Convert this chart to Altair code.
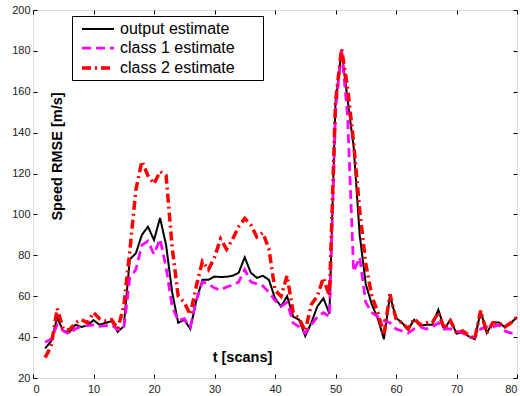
import altair as alt
import pandas as pd

# ---- data ----
t = list(range(2, 81))
output_est = [34.5, 38, 49.4, 43, 42.3, 46, 45, 45.6, 48.3, 46, 47, 47.8, 42.6, 45.3,
              78, 81, 90, 94, 87.5, 98.3, 85, 62, 47, 48.5, 44, 58, 68, 68, 69.6, 69.4,
              69.5, 70, 71.5, 79, 71.5, 69, 70, 68, 59, 55, 60, 50, 48.5, 40.5, 47, 55,
              59, 51.5, 155, 180, 156, 133, 90, 66, 56, 49, 39, 60.3, 49.4, 47, 43.7,
              48.5, 45.6, 46, 46, 53.4, 44, 48.5, 41.7, 42.4, 40.4, 39, 52.6, 42, 47.2,
              47.2, 44.8, 47, 49.7]
class1_est = [37.5, 39, 46, 43, 41.5, 44, 45.3, 45.6, 46, 45.3, 45.6, 46, 43.7, 44,
              69, 73, 85, 87, 80.5, 88, 74, 55, 48, 49, 45, 58, 67, 66, 64, 63, 64.5,
              65.5, 67, 73, 67, 66, 65, 62, 58, 55, 57, 47, 45, 42, 46, 50, 52, 50,
              150, 181, 148, 72, 79, 57, 52, 50, 48, 47, 44, 43, 42, 44, 45, 44, 45,
              47, 44, 44, 43, 42, 40, 40, 44, 45, 45, 46, 43, 42, 42]
class2_est = [30, 35.5, 54, 44, 43.5, 47, 48.5, 47, 52, 49, 48, 48.5, 44, 55, 82, 112,
              126, 119, 115, 121, 119, 84, 60, 57, 51, 65, 77, 73, 79, 88, 83, 88, 94,
              98, 95, 89, 91, 83, 63, 60, 70, 52, 49, 43, 56, 60, 69, 60, 155, 181,
              162, 135, 102, 76, 60, 52, 41, 61, 49, 47, 44, 49, 46, 47, 47, 52, 44,
              48, 42, 43, 41, 39, 53, 42, 47, 47, 45, 47, 50]
series_names = ["output estimate", "class 1 estimate", "class 2 estimate"]
x_ticks = [0, 10, 20, 30, 40, 50, 60, 70, 80]
y_ticks = [20, 40, 60, 80, 100, 120, 140, 160, 180, 200]

rows = []
for name, vals in zip(series_names, [output_est, class1_est, class2_est]):
    for ti, v in zip(t, vals):
        rows.append({"t": ti, "rmse": v, "series": name})
df = pd.DataFrame(rows)

font = "Liberation Sans"
xscale = alt.Scale(domain=[0, 80], nice=False, zero=False)
yscale = alt.Scale(domain=[20, 200], nice=False, zero=False)

legend = alt.Legend(
    title=None, orient="none", legendX=39, legendY=6,
    symbolType="M-2,0H2", symbolSize=256,
    labelFont=font, labelFontSize=16, labelColor="black",
    labelExpr="datum.label + '\u2800\u2800'",
    strokeColor="black", fillColor="white",
    padding=4, rowPadding=1.5, symbolOffset=12, labelOffset=12,
)

base = alt.Chart(df)

lines = base.mark_line(strokeCap="butt", strokeJoin="miter").encode(
    x=alt.X("t:Q", scale=xscale, axis=alt.Axis(
        values=x_ticks, orient="bottom", offset=-4, tickSize=4, domain=False,
        grid=False, tickColor="black", labelFont=font, labelFontSize=11,
        labelColor="#222", labelPadding=5, title="t [scans]", titleFont=font,
        titleFontSize=14.5, titleFontWeight="bold", titleColor="black",
        titleX=209, titleY=-17, titleBaseline="middle", titleAlign="center")),
    y=alt.Y("rmse:Q", scale=yscale, axis=alt.Axis(
        values=y_ticks, orient="left", offset=-4, tickSize=4, domain=False,
        grid=False, tickColor="black", labelFont=font, labelFontSize=11,
        labelColor="#222", labelPadding=3, title="Speed RMSE [m/s]",
        titleFont=font, titleFontSize=14.5, titleFontWeight="bold",
        titleColor="black", titleAngle=270, titleX=20, titleY=146,
        titleBaseline="middle", titleAlign="center")),
    color=alt.Color("series:N", scale=alt.Scale(
        domain=series_names, range=["#000000", "#ff00ff", "#ff0000"]), legend=legend),
    strokeDash=alt.StrokeDash("series:N", scale=alt.Scale(
        domain=series_names, range=[[1, 0], [9, 5], [9, 4, 2, 4]]), legend=legend),
    strokeWidth=alt.StrokeWidth("series:N", scale=alt.Scale(
        domain=series_names, range=[2, 3.5, 3.5]), legend=legend),
    order=alt.Order("series:N"),
)

mirror = base.mark_line(opacity=0).encode(
    x=alt.X("t:Q", scale=xscale, axis=alt.Axis(
        values=x_ticks, orient="top", offset=-4, tickSize=4, domain=False,
        grid=False, labels=False, title=None, tickColor="black")),
    y=alt.Y("rmse:Q", scale=yscale, axis=alt.Axis(
        values=y_ticks, orient="right", offset=-4, tickSize=4, domain=False,
        grid=False, labels=False, title=None, tickColor="black")),
    detail="series:N",
)

chart = alt.layer(lines, mirror).resolve_axis(
    x="independent", y="independent"
).properties(
    width=484, height=368,
    padding={"left": 33, "top": 10, "right": 3, "bottom": 18},
    autosize=alt.AutoSizeParams(type="none"),
).configure_view(stroke="black", strokeWidth=1).configure(background="white")

chart.save("out.html", embed_options={"renderer": "svg", "actions": False})
